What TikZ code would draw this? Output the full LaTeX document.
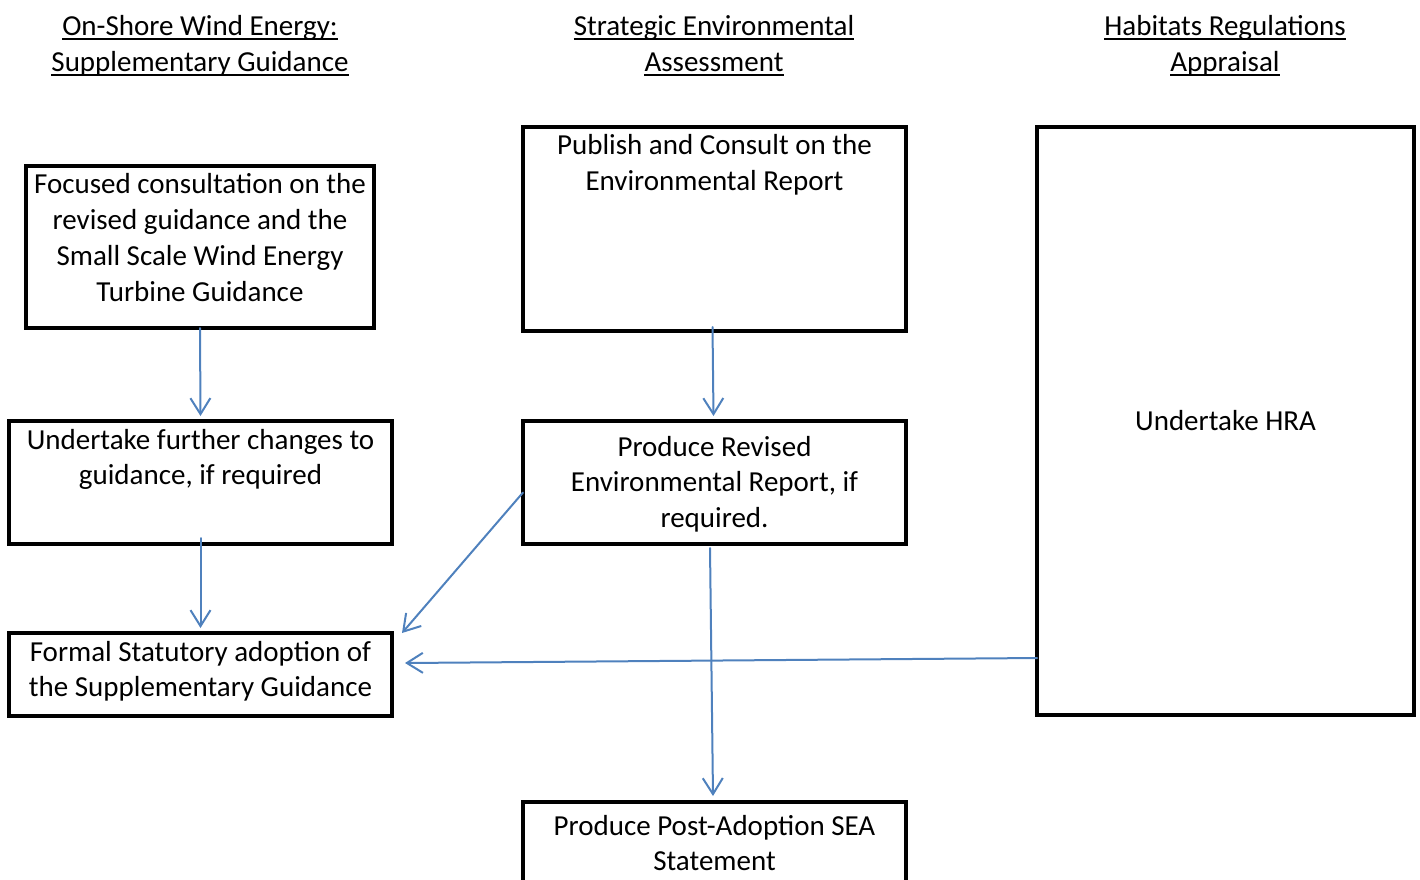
\documentclass[tikz,border=0pt]{standalone}
\usepackage{fontspec}
\setmainfont{Carlito}
\usetikzlibrary{arrows.meta}
\definecolor{arrblue}{RGB}{79,129,189}
\newcommand\bxt[4]{\begin{minipage}[t][#2][t]{#1}\centering\vspace*{#3}\strut #4\end{minipage}}
\begin{document}
\begin{tikzpicture}[x=1pt,y=-1pt,
  box/.style={draw=black,line width=3.2pt,inner sep=0pt,outer sep=0pt,rectangle,
    font=\fontsize{29}{35.7}\selectfont},
  ttl/.style={inner sep=0pt,anchor=base,font=\fontsize{29}{35.7}\selectfont},
  ul/.style={line width=1.8pt,black},
  arr/.style={draw=arrblue,line width=2pt,line cap=round,
    -{Straight Barb[length=16pt,width=20pt,line width=2pt]}}]
\useasboundingbox (0,0) rectangle (1420,879);

% titles
\node[ttl] (t1a) at (200,35) {On-Shore Wind Energy:};
\node[ttl] (t1b) at (200,71) {Supplementary Guidance};
\node[ttl] (t2a) at (714,35) {Strategic Environmental};
\node[ttl] (t2b) at (714,71) {Assessment};
\node[ttl] (t3a) at (1225,35) {Habitats Regulations};
\node[ttl] (t3b) at (1225,71) {Appraisal};
\foreach \t in {t1a,t1b,t2a,t2b,t3a,t3b}
  \draw[ul] ([yshift=-4pt]\t.base west) -- ([yshift=-4pt]\t.base east);

% boxes
\node[box,minimum width=348pt,minimum height=162pt] (b1) at (200,247)
  {\bxt{348pt}{162pt}{3pt}{Focused consultation on the\\revised guidance and the\\Small Scale Wind Energy\\Turbine Guidance}};
\node[box,minimum width=383pt,minimum height=123pt] (b2) at (200.5,482.5)
  {\bxt{383pt}{123pt}{3pt}{Undertake further changes to\\guidance, if required}};
\node[box,minimum width=383pt,minimum height=83pt] (b3) at (200.5,674.5)
  {\bxt{383pt}{83pt}{3pt}{Formal Statutory adoption of\\the Supplementary Guidance}};
\node[box,minimum width=383pt,minimum height=204pt] (b4) at (714.5,229)
  {\bxt{383pt}{204pt}{3pt}{Publish and Consult on the\\Environmental Report}};
\node[box,minimum width=383pt,minimum height=123pt] (b5) at (714.5,482.5)
  {\bxt{383pt}{123pt}{10pt}{Produce Revised\\Environmental Report, if\\required.}};
\node[box,minimum width=383pt,minimum height=98pt] (b6) at (714.5,851)
  {\bxt{383pt}{98pt}{8pt}{Produce Post-Adoption SEA\\Statement}};
\node[box,minimum width=377pt,minimum height=588pt] (hra) at (1225.5,421) {Undertake HRA};

% connectors
\draw[arr] (b1.south) -- ([yshift=5pt]b2.north);
\draw[arr] ([yshift=6pt]b2.south) -- ([yshift=5pt]b3.north);
\draw[arr] ([xshift=-2pt,yshift=4pt]b4.south) -- ([xshift=-1pt,yshift=5pt]b5.north);
\draw[arr] ([yshift=-10pt]b5.west) -- ([xshift=10pt]b3.north east);
\draw[arr] ([yshift=-237pt]hra.west) -- ([xshift=13pt,yshift=11.5pt]b3.east);
\draw[arr] ([xshift=-4.5pt,yshift=-4pt]b5.south) -- ([xshift=-1.5pt,yshift=6pt]b6.north);
\end{tikzpicture}
\end{document}
